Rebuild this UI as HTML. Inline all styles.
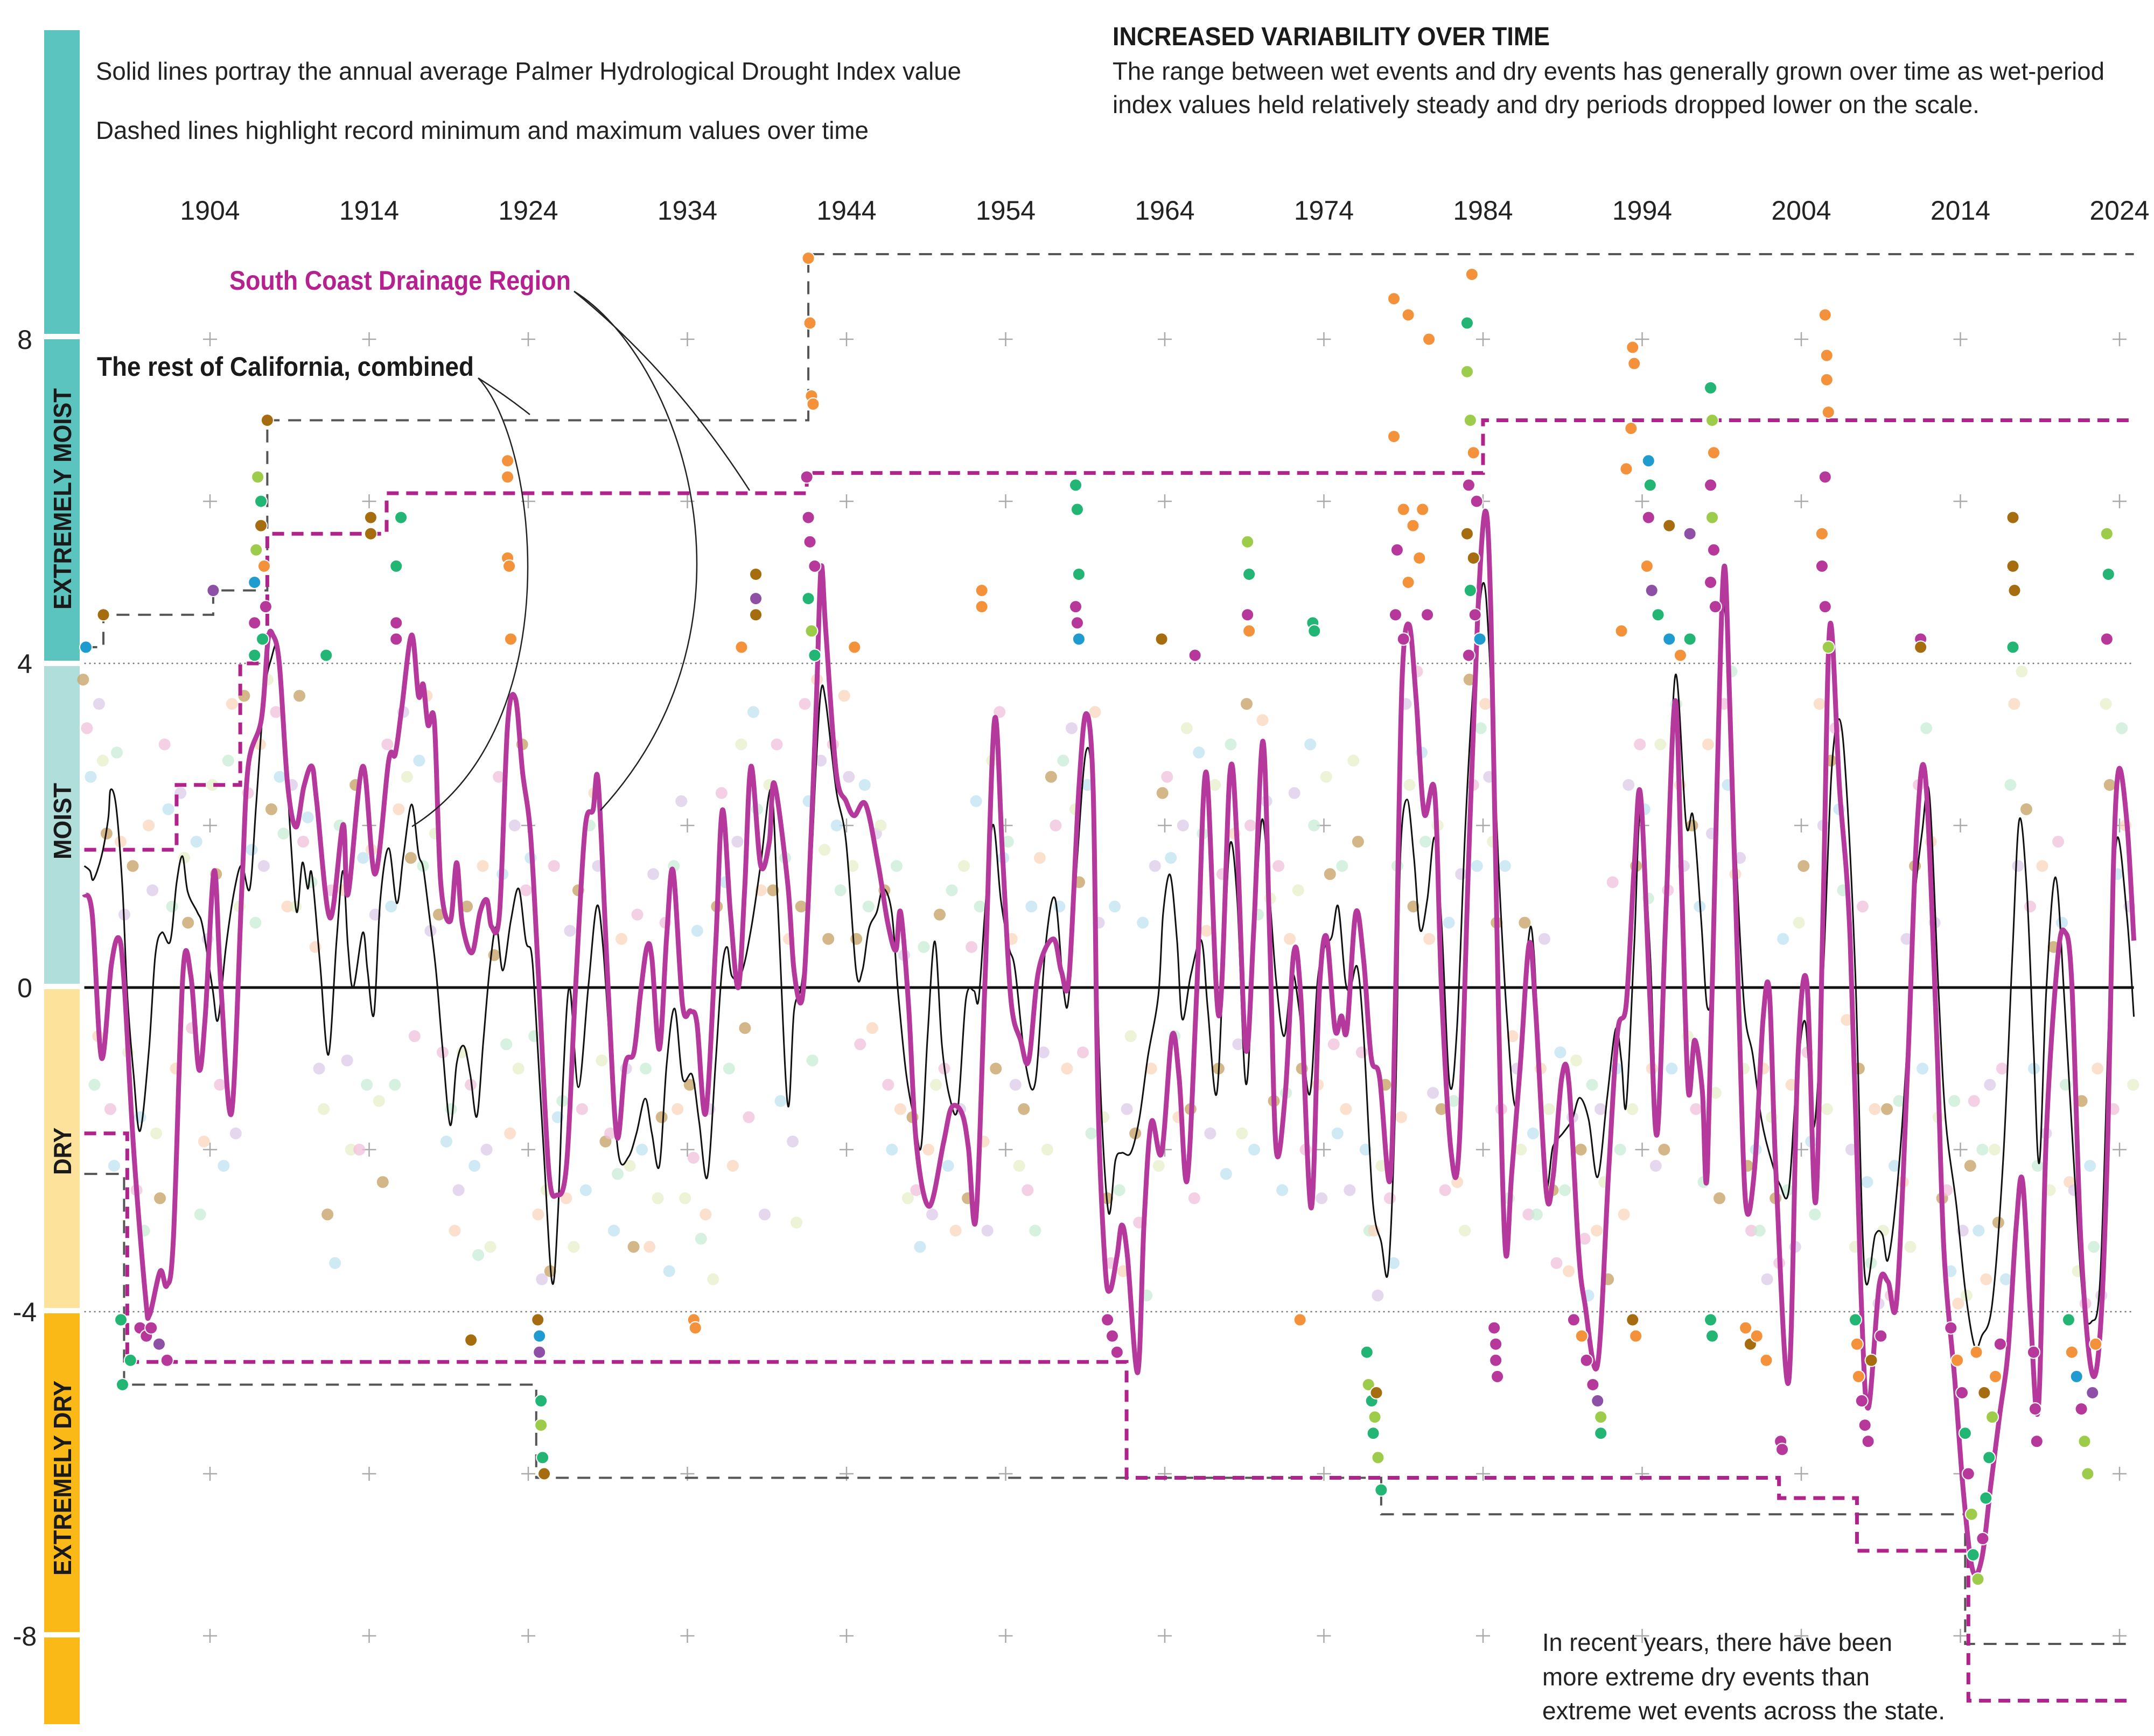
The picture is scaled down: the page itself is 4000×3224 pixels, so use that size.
<!DOCTYPE html>
<html><head><meta charset="utf-8"><title>Palmer Hydrological Drought Index</title>
<style>
html,body{margin:0;padding:0;background:#fff;}
svg{display:block;}
text{font-family:"Liberation Sans Narrow","Liberation Sans",sans-serif;}
</style></head>
<body>
<svg id="chart" xmlns="http://www.w3.org/2000/svg" width="4000" height="3224" viewBox="0 0 4000 3224">
<g id="bands">
<rect x="82" y="56" width="66" height="564" fill="#5bc4be"/>
<rect x="82" y="630" width="66" height="597" fill="#5bc4be"/>
<rect x="82" y="1237" width="66" height="590" fill="#b0dedb"/>
<rect x="82" y="1837" width="66" height="592" fill="#fde29b"/>
<rect x="82" y="2439" width="66" height="592" fill="#fbb917"/>
<rect x="82" y="3041" width="66" height="161" fill="#fbb917"/>
<text transform="translate(132,1132) rotate(-90)" font-size="46" font-weight="bold" fill="#1a1a1a" textLength="411" lengthAdjust="spacingAndGlyphs">EXTREMELY MOIST</text>
<text transform="translate(132,1596) rotate(-90)" font-size="46" font-weight="bold" fill="#1a1a1a" textLength="142" lengthAdjust="spacingAndGlyphs">MOIST</text>
<text transform="translate(132,2182) rotate(-90)" font-size="46" font-weight="bold" fill="#1a1a1a" textLength="88" lengthAdjust="spacingAndGlyphs">DRY</text>
<text transform="translate(132,2926) rotate(-90)" font-size="46" font-weight="bold" fill="#1a1a1a" textLength="362" lengthAdjust="spacingAndGlyphs">EXTREMELY DRY</text>
</g>
<g>
<text x="178" y="148" font-size="46" fill="#222" textLength="1607" lengthAdjust="spacingAndGlyphs">Solid lines portray the annual average Palmer Hydrological Drought Index value</text>
<text x="178" y="258" font-size="46" fill="#222" textLength="1435" lengthAdjust="spacingAndGlyphs">Dashed lines highlight record minimum and maximum values over time</text>
<text x="2066" y="84" font-size="48" font-weight="bold" fill="#1a1a1a" textLength="812" lengthAdjust="spacingAndGlyphs">INCREASED VARIABILITY OVER TIME</text>
<text x="2066" y="148" font-size="46" fill="#222" textLength="1842" lengthAdjust="spacingAndGlyphs">The range between wet events and dry events has generally grown over time as wet-period</text>
<text x="2066" y="210" font-size="46" fill="#222" textLength="1610" lengthAdjust="spacingAndGlyphs">index values held relatively steady and dry periods dropped lower on the scale.</text>
<text x="2864" y="3066" font-size="46" fill="#222" textLength="650" lengthAdjust="spacingAndGlyphs">In recent years, there have been</text>
<text x="2864" y="3130" font-size="46" fill="#222" textLength="608" lengthAdjust="spacingAndGlyphs">more extreme dry events than</text>
<text x="2864" y="3193" font-size="46" fill="#222" textLength="748" lengthAdjust="spacingAndGlyphs">extreme wet events across the state.</text>
</g>
<g id="axes"></g>
<g id="pale"></g>
<g id="axes2"></g>
<g id="steps"></g>
<g id="lines"></g>
<g id="ext"></g>
<g>
<text x="426" y="538" font-size="50" font-weight="bold" fill="#b5228f" textLength="634" lengthAdjust="spacingAndGlyphs">South Coast Drainage Region</text>
<text x="180" y="698" font-size="50" font-weight="bold" fill="#1a1a1a" textLength="700" lengthAdjust="spacingAndGlyphs">The rest of California, combined</text>
<path d="M1066,541 Q1250,690 1392,911" fill="none" stroke="#222" stroke-width="2.5"/>
<path d="M1066,541 C1260,660 1440,1150 1115,1505" fill="none" stroke="#222" stroke-width="2.5"/>
<path d="M888,702 Q940,735 984,770" fill="none" stroke="#222" stroke-width="2.5"/>
<path d="M888,702 C1000,820 1060,1350 765,1535" fill="none" stroke="#222" stroke-width="2.5"/>
</g>
</svg>
<script>
// ---- data ----
const tickYears = [1904,1914,1924,1934,1944,1954,1964,1974,1984,1994,2004,2014,2024];
const yTickValues = [8,4,0,-4,-8];
const plusValues = [8,6,2,-2,-6,-8];

const southCoast = [[1896.1,1.15],[1896.6,0.9],[1897.18,-0.87],[1897.8,0.28],[1898.27,0.61],[1898.6,0.07],[1899.2,-2.0],[1899.95,-3.82],[1900.2,-4.04],[1900.87,-3.5],[1901.28,-3.68],[1901.7,-3.1],[1902.3,0.18],[1902.8,0.14],[1903.3,-1.01],[1903.7,-0.36],[1904.26,1.44],[1904.67,0.07],[1905.35,-1.55],[1906.0,1.22],[1906.4,2.73],[1907.23,3.31],[1907.64,4.28],[1907.95,4.35],[1908.36,3.99],[1908.87,2.52],[1909.4,1.98],[1909.9,2.48],[1910.4,2.73],[1910.7,2.3],[1911.54,0.86],[1912.36,2.01],[1912.67,1.15],[1913.6,2.73],[1914.37,1.4],[1915.23,2.8],[1915.64,2.88],[1916.05,3.45],[1916.67,4.35],[1917.1,3.6],[1917.4,3.74],[1917.7,3.24],[1918.1,3.27],[1918.5,1.29],[1919.1,0.82],[1919.5,1.54],[1919.85,0.79],[1920.46,0.43],[1920.97,0.93],[1921.4,1.08],[1921.7,0.75],[1922.2,0.93],[1922.7,3.24],[1923.2,3.56],[1923.64,2.66],[1924.15,1.87],[1924.66,0.07],[1925.28,-2.24],[1925.8,-2.56],[1926.4,-2.2],[1926.95,-0.08],[1927.56,1.94],[1928.07,2.19],[1928.4,2.52],[1929.0,0.07],[1929.57,-1.84],[1930.1,-0.94],[1930.64,-0.8],[1931.05,-0.08],[1931.46,0.5],[1931.77,0.36],[1932.24,-0.76],[1932.7,0.64],[1933.1,1.44],[1933.7,-0.22],[1934.2,-0.29],[1934.6,-0.44],[1935.15,-1.55],[1935.77,0.5],[1936.2,2.19],[1936.7,0.93],[1937.2,0.0],[1937.6,1.22],[1938.0,2.73],[1938.6,1.51],[1939.15,1.8],[1939.46,2.52],[1940.3,1.29],[1940.7,0.21],[1941.2,-0.15],[1941.6,1.08],[1942.1,3.52],[1942.4,5.18],[1942.7,4.39],[1943.35,2.66],[1943.97,2.3],[1944.48,2.12],[1945.2,2.26],[1946.0,1.51],[1946.6,0.79],[1947.1,0.46],[1947.4,0.93],[1947.9,-0.22],[1948.4,-1.95],[1949.2,-2.7],[1950.1,-1.91],[1950.6,-1.48],[1951.25,-1.55],[1951.66,-1.98],[1952.13,-2.85],[1952.7,0.07],[1953.3,3.3],[1953.8,1.65],[1954.33,-0.15],[1954.94,-0.65],[1955.45,-0.9],[1956.07,0.21],[1957.0,0.6],[1957.5,0.2],[1957.98,0.12],[1958.6,2.45],[1959.06,3.38],[1959.5,2.45],[1959.8,-1.36],[1960.24,-3.4],[1960.56,-3.74],[1961.0,-3.31],[1961.3,-2.93],[1961.65,-3.31],[1962.3,-4.75],[1962.7,-2.89],[1963.16,-1.66],[1963.8,-2.04],[1964.45,-0.6],[1964.9,-1.11],[1965.4,-2.38],[1966.0,-0.09],[1966.6,2.66],[1967.4,-0.35],[1968.1,2.66],[1968.55,1.77],[1969.1,-0.77],[1969.6,0.75],[1970.17,3.04],[1970.6,0.58],[1971.0,-2.0],[1971.57,-1.32],[1972.1,0.42],[1972.54,-0.09],[1973.2,-2.72],[1973.7,-0.09],[1974.16,0.63],[1974.7,-0.52],[1975.1,-0.35],[1975.45,-0.52],[1976.0,0.92],[1976.5,0.33],[1976.97,-0.86],[1977.5,-1.11],[1978.15,-2.38],[1978.5,-0.09],[1978.9,3.72],[1979.35,4.48],[1979.8,3.55],[1980.3,2.15],[1980.96,2.41],[1981.4,-0.09],[1982.0,-2.04],[1982.5,-1.96],[1983.1,1.6],[1983.66,4.57],[1984.15,5.88],[1984.5,4.57],[1984.95,-0.09],[1985.4,-3.23],[1985.8,-2.3],[1986.35,-0.94],[1986.9,0.54],[1987.3,-0.26],[1987.97,-2.51],[1988.4,-2.34],[1988.95,-1.11],[1989.4,-1.19],[1990.0,-3.23],[1990.4,-3.9],[1991.2,-4.65],[1991.9,-2.25],[1992.45,-0.56],[1993.0,-0.2],[1993.5,1.49],[1993.9,2.38],[1994.5,-0.2],[1994.95,-1.8],[1995.5,0.96],[1996.08,3.54],[1996.5,1.13],[1996.9,-1.27],[1997.3,-0.65],[1997.78,-1.27],[1998.1,-2.25],[1998.7,2.47],[1999.14,5.18],[1999.5,3.54],[2000.04,-0.02],[2000.5,-2.65],[2001.06,-2.25],[2001.6,-0.38],[2002.0,-0.07],[2002.4,-2.25],[2003.2,-4.87],[2003.78,-0.91],[2004.35,0.06],[2004.9,-2.65],[2005.37,0.96],[2005.8,4.47],[2006.4,2.47],[2007.07,0.6],[2007.75,-3.76],[2008.2,-5.19],[2008.9,-3.67],[2009.45,-3.63],[2010.0,-3.85],[2010.7,-0.91],[2011.26,1.93],[2011.8,2.6],[2012.5,-0.56],[2012.96,-3.23],[2013.64,-4.83],[2014.2,-6.25],[2014.77,-7.19],[2015.34,-7.05],[2015.9,-6.16],[2016.47,-5.27],[2017.0,-4.47],[2017.5,-2.96],[2017.9,-2.38],[2018.4,-4.03],[2018.9,-5.19],[2019.4,-1.8],[2020.1,0.33],[2020.55,0.69],[2021.0,0.06],[2021.57,-3.14],[2022.25,-4.74],[2022.8,-4.21],[2023.27,-1.8],[2023.6,1.4],[2023.95,2.69],[2024.47,2.02],[2024.9,0.58]];

const restOfCA = [[1896.1,1.5],[1896.46,1.44],[1896.67,1.33],[1897.18,1.62],[1897.6,2.08],[1897.75,2.44],[1898.1,2.23],[1898.5,1.22],[1898.8,-0.08],[1899.2,-1.08],[1899.6,-1.77],[1900.15,-0.8],[1900.56,0.39],[1900.97,0.68],[1901.5,0.57],[1901.9,1.29],[1902.27,1.62],[1902.6,1.18],[1903.2,0.93],[1903.54,0.75],[1904.15,0.0],[1904.5,-0.4],[1905.0,0.5],[1905.55,1.22],[1906.0,1.51],[1906.5,1.22],[1906.9,2.26],[1907.4,3.6],[1907.85,4.06],[1908.26,4.21],[1908.57,3.45],[1909.08,1.8],[1909.45,0.93],[1909.8,1.54],[1910.14,1.22],[1910.4,1.4],[1910.92,0.28],[1911.44,-0.83],[1911.95,0.57],[1912.36,1.44],[1912.67,0.5],[1913.0,0.0],[1913.6,0.68],[1913.9,0.21],[1914.3,-0.33],[1914.7,1.08],[1915.23,1.72],[1915.74,1.04],[1916.15,1.62],[1916.67,2.26],[1917.1,1.65],[1917.4,1.47],[1917.8,0.86],[1918.2,0.21],[1918.6,-0.72],[1919.1,-1.7],[1919.5,-0.94],[1919.95,-0.72],[1920.36,-1.08],[1920.77,-1.59],[1921.18,-0.65],[1921.6,0.28],[1922.0,0.75],[1922.4,0.21],[1922.9,0.82],[1923.4,1.22],[1923.85,0.57],[1924.2,0.43],[1924.46,-0.29],[1924.97,-2.02],[1925.5,-3.64],[1925.86,-2.81],[1926.2,-1.08],[1926.6,0.0],[1927.15,-1.23],[1927.77,0.0],[1928.3,1.0],[1928.7,0.5],[1929.2,-0.94],[1929.7,-2.09],[1930.3,-2.09],[1930.8,-1.8],[1931.35,-1.37],[1931.77,-1.8],[1932.24,-2.2],[1932.7,-0.94],[1933.2,-0.26],[1933.7,-1.12],[1934.3,-1.08],[1934.74,-1.66],[1935.25,-2.34],[1935.77,-0.94],[1936.17,0.21],[1936.5,0.5],[1936.8,0.14],[1937.4,0.18],[1938.0,0.72],[1938.6,1.51],[1939.26,2.44],[1939.67,1.08],[1940.3,-1.44],[1940.7,-0.29],[1941.2,0.07],[1941.7,1.22],[1942.1,2.8],[1942.4,3.67],[1942.7,3.52],[1943.35,2.44],[1943.97,1.8],[1944.6,0.21],[1945.0,0.21],[1945.4,0.72],[1945.9,0.93],[1946.3,1.22],[1946.84,0.93],[1947.25,-0.08],[1947.76,-1.08],[1948.3,-1.66],[1948.7,-1.95],[1949.1,-0.58],[1949.55,0.57],[1950.0,-0.72],[1950.5,-1.37],[1951.0,-1.48],[1951.5,-0.15],[1952.0,-0.04],[1952.3,-0.15],[1952.7,0.93],[1953.2,2.01],[1953.7,1.08],[1954.2,0.5],[1954.6,0.21],[1955.25,-0.94],[1955.87,-1.16],[1956.5,0.5],[1957.1,1.1],[1957.65,-0.05],[1957.98,-0.09],[1958.5,1.6],[1959.06,2.92],[1959.5,2.28],[1959.9,-0.94],[1960.45,-2.76],[1960.9,-2.13],[1961.3,-2.04],[1961.86,-2.04],[1962.4,-1.62],[1962.94,-0.85],[1963.6,-0.09],[1963.9,0.92],[1964.34,1.39],[1964.77,0.58],[1965.1,-0.39],[1965.64,0.16],[1966.3,0.58],[1966.7,-0.26],[1967.25,-1.32],[1967.7,0.33],[1968.1,1.77],[1968.55,1.09],[1969.1,-1.19],[1969.6,0.5],[1970.1,2.07],[1970.6,1.09],[1971.0,0.08],[1971.5,-0.6],[1972.0,0.16],[1972.44,-0.26],[1973.1,-1.32],[1973.6,0.08],[1974.05,0.5],[1974.5,0.63],[1974.9,1.0],[1975.35,0.08],[1975.67,0.0],[1976.1,0.25],[1976.5,-0.6],[1977.07,-2.63],[1977.6,-3.14],[1978.05,-3.48],[1978.5,-1.36],[1978.8,1.6],[1979.23,2.32],[1979.66,1.6],[1980.05,0.71],[1980.5,1.09],[1980.96,1.85],[1981.4,0.76],[1981.9,-1.19],[1982.36,-0.52],[1982.9,2.03],[1983.45,3.89],[1984.0,4.99],[1984.4,4.15],[1984.95,1.6],[1985.5,-0.35],[1986.1,-1.45],[1986.8,0.5],[1987.2,0.42],[1987.9,-2.34],[1988.4,-1.96],[1989.05,-1.79],[1989.6,-1.63],[1990.07,-1.36],[1990.64,-1.63],[1991.2,-2.34],[1991.8,-1.36],[1992.34,-0.51],[1992.7,-0.91],[1993.0,-1.45],[1993.5,0.51],[1993.9,2.16],[1994.5,0.42],[1995.0,-1.8],[1995.5,0.86],[1996.08,3.85],[1996.76,2.02],[1997.2,2.11],[1997.7,0.86],[1998.1,-0.25],[1998.46,0.42],[1998.9,3.98],[1999.25,4.56],[1999.8,2.02],[2000.4,-0.2],[2000.95,-0.83],[2001.5,-1.63],[2002.1,-2.12],[2002.65,-2.43],[2003.2,-2.52],[2003.7,-1.18],[2004.24,-0.42],[2004.8,-1.72],[2005.37,0.15],[2005.9,2.65],[2006.4,3.31],[2006.84,2.47],[2007.4,0.15],[2007.97,-3.5],[2008.65,-3.05],[2009.1,-3.05],[2009.45,-3.36],[2010.0,-2.52],[2010.6,-0.91],[2011.03,0.86],[2011.6,1.93],[2012.05,2.38],[2012.62,-0.02],[2013.07,-1.63],[2013.75,-2.69],[2014.32,-3.76],[2014.9,-4.43],[2015.34,-4.3],[2016.0,-3.9],[2016.7,-2.08],[2017.27,0.42],[2017.7,2.07],[2018.17,1.22],[2018.6,-0.74],[2018.96,-2.16],[2019.4,-0.02],[2019.98,1.36],[2020.55,-0.2],[2021.1,-2.07],[2021.7,-3.85],[2022.25,-4.12],[2022.8,-3.54],[2023.4,0.06],[2023.84,1.84],[2024.47,0.87],[2024.9,-0.36]];

const restMax = [[1896.1,4.2],[1897.3,4.6],[1904.2,4.9],[1907.6,7.0],[1941.6,9.05]];
const restMin = [[1896.1,-2.3],[1898.6,-4.9],[1924.5,-6.05],[1977.6,-6.5],[2014.3,-8.1]];
const southMax = [[1896.1,1.7],[1901.9,2.5],[1905.9,4.0],[1907.6,5.6],[1915.1,6.1],[1941.5,6.35],[1984.0,7.0]];
const southMin = [[1896.1,-1.8],[1898.8,-4.62],[1961.6,-6.05],[2002.6,-6.3],[2007.5,-6.95],[2014.5,-8.8]];
const endYear = 2024.9;

const dotPalette = ["#f4913b","#b5389a","#22b573","#9ccc4a","#a66d10","#1f9bd0","#8e4fa6"];
const extremeDots = [
[1896.2,4.2,5],[1897.3,4.6,4],[1904.2,4.9,6],[1906.8,4.1,2],[1906.8,4.5,1],[1906.8,5.0,5],[1906.9,5.4,3],[1907.0,6.3,3],[1907.2,6.0,2],[1907.2,5.7,4],[1907.4,5.2,0],[1907.5,4.7,1],[1907.6,7.0,4],[1907.3,4.3,2],[1911.3,4.1,2],[1914.1,5.8,4],[1914.1,5.6,4],[1915.7,4.3,1],[1915.7,4.5,1],[1915.7,5.2,2],[1916.0,5.8,2],[1922.7,6.5,0],[1922.7,6.3,0],[1922.7,5.3,0],[1922.8,5.2,0],[1922.9,4.3,0],[1937.4,4.2,0],[1938.3,4.6,4],[1938.3,4.8,6],[1938.3,5.1,4],[1941.6,9.0,0],[1941.7,8.2,0],[1941.8,7.3,0],[1941.9,7.2,0],[1941.5,6.3,1],[1941.6,5.8,1],[1941.7,5.5,1],[1942.0,5.2,1],[1941.6,4.8,2],[1941.8,4.4,3],[1942.0,4.1,2],[1944.5,4.2,0],[1952.5,4.9,0],[1952.5,4.7,0],[1958.4,6.2,2],[1958.5,5.9,2],[1958.6,5.1,2],[1958.4,4.7,1],[1958.5,4.5,1],[1958.6,4.3,5],[1963.8,4.3,4],[1965.9,4.1,1],[1969.2,5.5,3],[1969.3,5.1,2],[1969.2,4.6,1],[1969.3,4.4,0],[1973.3,4.5,2],[1973.4,4.4,2],[1978.4,8.5,0],[1979.3,8.3,0],[1980.6,8.0,0],[1978.4,6.8,0],[1979.0,5.9,0],[1979.6,5.7,0],[1980.2,5.9,0],[1978.6,5.4,1],[1979.3,5.0,0],[1980.0,5.3,0],[1978.5,4.6,1],[1979.0,4.3,1],[1980.5,4.6,1],[1983.0,8.2,2],[1983.3,8.8,0],[1983.0,7.6,3],[1983.2,7.0,3],[1983.4,6.6,0],[1983.1,6.2,1],[1983.6,6.0,1],[1983.0,5.6,4],[1983.4,5.3,4],[1983.2,4.9,2],[1983.5,4.6,1],[1983.8,4.3,5],[1983.1,4.1,1],[1993.4,7.9,0],[1993.5,7.7,0],[1993.3,6.9,0],[1993.0,6.4,0],[1994.4,6.5,5],[1994.5,6.2,2],[1994.4,5.8,1],[1995.7,5.7,4],[1994.3,5.2,0],[1994.6,4.9,6],[1995.0,4.6,2],[1995.7,4.3,5],[1996.4,4.1,0],[1992.7,4.4,0],[1998.3,7.4,2],[1998.4,7.0,3],[1998.5,6.6,0],[1998.3,6.2,1],[1998.4,5.8,3],[1998.5,5.4,1],[1998.3,5.0,1],[1998.6,4.7,1],[1997.0,5.6,6],[1997.0,4.3,2],[2005.5,8.3,0],[2005.6,7.8,0],[2005.6,7.5,0],[2005.7,7.1,0],[2005.5,6.3,1],[2005.3,5.6,0],[2005.3,5.2,1],[2005.5,4.7,1],[2005.7,4.2,3],[2011.5,4.3,1],[2011.5,4.2,4],[2017.3,5.8,4],[2017.3,5.2,4],[2017.4,4.9,4],[2017.3,4.2,2],[2023.2,5.6,3],[2023.3,5.1,2],[2023.2,4.3,1],
[1898.4,-4.1,2],[1898.5,-4.9,2],[1899.0,-4.6,2],[1899.6,-4.2,1],[1900.0,-4.3,1],[1900.3,-4.2,1],[1900.8,-4.4,6],[1901.3,-4.6,1],[1924.6,-4.1,4],[1924.7,-4.3,5],[1924.7,-4.5,6],[1924.8,-5.1,2],[1924.8,-5.4,3],[1924.9,-5.8,2],[1925.0,-6.0,4],[1920.4,-4.35,4],[1934.4,-4.1,0],[1934.5,-4.2,0],[1960.4,-4.1,1],[1960.7,-4.3,1],[1961.0,-4.5,1],[1976.7,-4.5,2],[1976.8,-4.9,3],[1977.0,-5.1,2],[1977.2,-5.3,3],[1977.1,-5.5,2],[1977.4,-5.8,3],[1977.6,-6.2,2],[1977.3,-5.0,4],[1972.5,-4.1,0],[1984.7,-4.2,1],[1984.8,-4.4,1],[1984.8,-4.6,1],[1984.9,-4.8,1],[1989.7,-4.1,1],[1990.2,-4.3,0],[1990.5,-4.6,1],[1990.9,-4.9,1],[1991.2,-5.1,6],[1991.4,-5.3,3],[1991.4,-5.5,2],[1993.4,-4.1,4],[1993.6,-4.3,0],[1998.3,-4.1,2],[1998.4,-4.3,2],[2000.5,-4.2,0],[2000.8,-4.4,4],[2001.2,-4.3,0],[2001.8,-4.6,0],[2002.7,-5.6,1],[2002.8,-5.7,1],[2007.4,-4.1,2],[2007.5,-4.4,0],[2007.6,-4.8,0],[2007.8,-5.1,1],[2008.0,-5.4,1],[2008.2,-5.6,1],[2008.4,-4.6,4],[2009.0,-4.3,1],[2013.4,-4.2,1],[2013.8,-4.6,0],[2014.1,-5.0,1],[2014.3,-5.5,2],[2014.5,-6.0,1],[2014.7,-6.5,3],[2014.8,-7.0,2],[2015.1,-7.3,3],[2015.4,-6.8,1],[2015.6,-6.3,2],[2015.8,-5.8,2],[2016.0,-5.3,3],[2016.2,-4.8,0],[2016.5,-4.4,1],[2015.0,-4.5,0],[2015.5,-5.0,4],[2018.6,-4.5,1],[2018.7,-5.2,1],[2018.8,-5.6,1],[2020.8,-4.1,2],[2021.0,-4.5,0],[2021.3,-4.8,5],[2021.6,-5.2,1],[2021.8,-5.6,3],[2022.0,-6.0,3],[2022.5,-4.4,0],[2022.3,-5.0,6]
];
const paleYears = [1896,1897,1898,1899,1900,1901,1902,1903,1904,1905,1906,1907,1908,1909,1910,1911,1912,1913,1914,1915,1916,1917,1918,1919,1920,1921,1922,1923,1924,1925,1926,1927,1928,1929,1930,1931,1932,1933,1934,1935,1936,1937,1938,1939,1940,1941,1942,1943,1944,1945,1946,1947,1948,1949,1950,1951,1952,1953,1954,1955,1956,1957,1958,1959,1960,1961,1962,1963,1964,1965,1966,1967,1968,1969,1970,1971,1972,1973,1974,1975,1976,1977,1978,1979,1980,1981,1982,1983,1984,1985,1986,1987,1988,1989,1990,1991,1992,1993,1994,1995,1996,1997,1998,1999,2000,2001,2002,2003,2004,2005,2006,2007,2008,2009,2010,2011,2012,2013,2014,2015,2016,2017,2018,2019,2020,2021,2022,2023,2024];
const paleValues = [[3.8,3.2,2.6,-1.2,-0.6],[3.5,2.8,1.9,-1.5,-2.2],[2.9,1.8,0.9,-0.8],[1.5,-2.5,-1.6,-3.0],[2.0,1.2,-1.8,-2.6],[3.0,2.2,1.0,-1.0],[2.4,1.6,0.8,-0.5],[1.8,-2.8,-1.9,0.6],[2.5,1.4,-1.2,-2.2],[2.8,3.5,-1.8,1.0],[3.6,2.4,1.7,0.8],[3.0,1.5,3.8,2.2],[3.4,2.6,1.9,1.0],[2.5,1.0,3.6,1.8],[2.1,1.3,0.5,-1.0],[-1.5,-2.8,1.2,-3.4],[2.0,1.2,-0.9,-2.0],[2.5,-2.0,1.6,-1.2],[1.7,0.9,-1.4,-2.4],[3.0,1.0,-1.2,2.2],[3.4,2.6,1.6,-0.6],[2.8,1.5,3.6,0.7],[1.9,0.9,-0.8,-1.9],[-1.5,-3.0,-2.5,-0.8],[1.0,-1.2,-2.2,-3.3],[1.5,-2.0,-3.2,0.4],[2.6,1.4,-0.7,-1.8],[2.0,-1.0,3.0,1.2],[1.6,-0.6,-2.8,-3.6],[-2.5,-3.5,1.5,-1.6],[-1.4,-2.6,0.7,-3.2],[1.2,-1.5,-2.5,2.0],[2.4,1.5,-0.9,-1.9],[-1.8,-3.0,-2.3,0.6],[-1.0,-2.2,-3.2,0.9],[-2.0,-1.0,-3.2,1.4],[-2.6,-1.6,0.8,-3.5],[1.5,-1.5,2.3,-2.6],[-1.2,-2.1,0.7,-3.1],[-2.8,-1.5,-3.6,1.0],[2.4,1.3,-1.0,-2.2],[1.8,3.0,-0.5,-1.6],[3.4,2.2,1.2,-2.8],[2.5,1.2,3.0,-1.4],[1.6,0.6,-1.9,-2.9],[1.0,3.5,2.3,-0.9],[3.8,2.8,1.7,0.6],[3.0,2.0,1.2,3.6],[2.6,1.5,0.6,-0.7],[2.5,1.0,-0.5,1.9],[2.0,1.2,-1.2,-2.0],[1.5,-1.5,0.4,-2.6],[-1.6,-2.5,-3.2,0.5],[-2.0,-2.8,-1.2,0.9],[-1.0,-2.2,1.2,-3.0],[-1.5,1.5,-2.6,0.5],[2.3,1.0,-1.9,-3.0],[2.8,-1.0,3.4,1.6],[1.8,0.6,-1.2,-2.2],[-1.5,-2.5,1.0,-3.0],[1.6,-0.8,-2.0,2.6],[2.0,1.0,2.8,-1.0],[3.2,2.2,1.3,-0.8],[2.5,-1.8,3.4,0.8],[-1.6,-2.6,-3.4,1.0],[-2.5,-3.5,-1.5,-0.6],[-1.8,-2.9,0.8,-3.8],[-1.0,1.5,-2.2,2.4],[2.6,1.6,-0.6,-1.6],[2.0,3.2,-1.5,-2.6],[2.9,1.9,0.7,-1.8],[2.5,-1.0,1.4,-2.3],[3.0,1.9,-0.7,-1.8],[3.5,2.0,-2.0,0.9],[3.3,2.3,1.1,-1.4],[1.5,-2.5,-1.3,0.6],[2.4,1.2,-1.0,-2.0],[3.0,2.0,-1.2,-2.6],[2.6,1.4,-0.7,-1.8],[1.5,-1.5,-2.5,2.8],[1.8,-0.8,-2.0,-3.0],[-3.0,-3.8,-2.2,-1.2],[-2.6,-3.4,1.5,-1.6],[3.5,2.5,1.0,3.9],[2.9,1.8,0.6,-1.3],[2.0,-1.5,-2.5,0.8],[-1.4,-2.4,1.4,-3.0],[3.8,2.5,1.5,3.2],[3.5,2.6,1.8,0.8],[-1.5,1.5,-2.6,-0.6],[-1.0,-2.0,0.8,-2.8],[-1.8,-2.8,-1.0,0.6],[-1.5,-2.5,-3.4,-0.8],[-2.5,-3.5,-1.6,-0.9],[-2.0,-3.1,-3.8,-1.2],[-3.0,-1.5,-2.4,-3.6],[1.3,-1.0,-2.0,-2.8],[2.5,-1.5,1.5,3.0],[2.2,1.1,-1.0,-2.2],[3.0,-2.0,1.2,-1.0],[3.5,2.5,1.5,-0.6],[2.0,-1.5,1.0,-2.4],[3.0,1.9,-1.3,-2.6],[3.5,2.5,3.9,1.4],[1.6,-1.0,-2.2,-3.0],[-2.0,-3.0,-1.0,-3.6],[-1.6,-2.6,-3.4,0.6],[-2.5,-1.2,-3.2,0.8],[1.5,-0.8,-1.9,-2.8],[3.5,2.0,-1.5,2.8],[3.2,2.2,1.2,-0.4],[-2.0,-3.2,-1.0,1.0],[-2.4,-3.4,-1.5,-3.9],[-3.0,-1.5,-3.8,-2.2],[-1.4,-2.4,0.6,-3.2],[1.5,2.5,-1.0,3.2],[1.8,0.8,-1.6,-2.6],[-2.5,-3.5,-1.4,-3.9],[-3.0,-3.8,-2.2,-1.4],[-3.0,-2.0,-3.6,-1.2],[-2.0,-2.9,-1.0,-3.6],[2.5,3.5,1.5,3.9],[2.2,1.0,-1.0,-2.2],[1.5,-1.8,-2.5,0.5],[1.8,0.8,-1.2,-2.4],[-2.5,-3.5,-1.4,-3.9],[-2.2,-3.2,-1.0,-3.8],[3.5,2.5,-1.5,1.4],[3.2,2.0,1.0,-1.2]];
const paleColors = ["#c8a56c","#f0c0dc","#bfe2f2","#c8ecd4","#f9d6bc","#dccbe8","#e6efc9"];

// ---- scales ----
const NS = "http://www.w3.org/2000/svg";
function xs(yr){ return 390 + (yr - 1904) * 29.55; }
function ys(v){ return 1834 - v * 150.5; }
function mk(tag, attrs, parent){ const e = document.createElementNS(NS, tag); for (const k in attrs) e.setAttribute(k, attrs[k]); parent.appendChild(e); return e; }

const axes = document.getElementById('axes');
const x0 = xs(1896.1), x1 = xs(endYear);
tickYears.forEach(function(y){
  const t = mk('text', {x: xs(y), y: 408, 'font-size': 50, 'text-anchor': 'middle', fill: '#222'}, axes);
  
  
  t.textContent = y;
  plusValues.forEach(function(v){
    const p = mk('path', {d: 'M'+(xs(y)-13)+','+ys(v)+'h26M'+xs(y)+','+(ys(v)-13)+'v26', stroke: '#aaa', 'stroke-width': 2.5}, axes);
    
    
  });
});
yTickValues.forEach(function(v){
  const t = mk('text', {x: 46, y: ys(v) + 18, 'font-size': 50, 'text-anchor': 'middle', fill: '#222'}, axes);
  
  
  t.textContent = v;
});
[4,-4].forEach(function(v){
  const l = mk('line', {x1: x0, x2: x1, y1: ys(v), y2: ys(v), stroke: '#777', 'stroke-width': 2.5, 'stroke-dasharray': '3 6'}, axes);
  
  
});

// pale dots
const pale = document.getElementById('pale');
let pc = 0;
paleYears.forEach(function(yr, yi){
  const vals = paleValues[yi];
  vals.forEach(function(v, i){
    const col = paleColors[pc % paleColors.length];
    const dx = (i - (vals.length - 1) / 2) * 7;
    const c = mk('circle', {cx: xs(yr + 0.5) + dx, cy: ys(v), r: 11, fill: col, opacity: col === '#c8a56c' ? 0.8 : 0.75}, pale);
    
    
    pc++;
  });
});

// zero line
const axes2 = document.getElementById('axes2');
const zl = mk('line', {x1: x0, x2: x1, y1: ys(0), y2: ys(0), stroke: '#111', 'stroke-width': 5}, axes2);



// step lines
const steps = document.getElementById('steps');
function stepPath(arr){
  let d = 'M' + xs(arr[0][0]) + ',' + ys(arr[0][1]);
  for (let i = 1; i < arr.length; i++){ d += 'H' + xs(arr[i][0]) + 'V' + ys(arr[i][1]); }
  d += 'H' + xs(endYear);
  return d;
}
const s1 = mk('path', {d: stepPath(restMax), fill: 'none', stroke: '#555', 'stroke-width': 4, 'stroke-dasharray': '24 16'}, steps);


const s2 = mk('path', {d: stepPath(restMin), fill: 'none', stroke: '#555', 'stroke-width': 4, 'stroke-dasharray': '24 16'}, steps);


const s3 = mk('path', {d: stepPath(southMax), fill: 'none', stroke: '#b0228c', 'stroke-width': 7, 'stroke-dasharray': '22 14'}, steps);


const s4 = mk('path', {d: stepPath(southMin), fill: 'none', stroke: '#b0228c', 'stroke-width': 7, 'stroke-dasharray': '22 14'}, steps);



// smooth lines
function smooth(arr){
  const p = arr.map(function(a){ return [xs(a[0]), ys(a[1])]; });
  let d = 'M' + p[0][0].toFixed(1) + ',' + p[0][1].toFixed(1);
  for (let i = 0; i < p.length - 1; i++){
    const a = p[Math.max(0, i-1)], b = p[i], c = p[i+1], e = p[Math.min(p.length-1, i+2)];
    const c1x = b[0] + (c[0]-a[0])/6, c1y = b[1] + (c[1]-a[1])/6;
    const c2x = c[0] - (e[0]-b[0])/6, c2y = c[1] - (e[1]-b[1])/6;
    d += 'C' + c1x.toFixed(1)+','+c1y.toFixed(1)+' '+c2x.toFixed(1)+','+c2y.toFixed(1)+' '+c[0].toFixed(1)+','+c[1].toFixed(1);
  }
  return d;
}
const lines = document.getElementById('lines');
const lr = mk('path', {d: smooth(restOfCA), fill: 'none', stroke: '#111', 'stroke-width': 3, 'stroke-linejoin': 'round'}, lines);


const ls = mk('path', {d: smooth(southCoast), fill: 'none', stroke: '#b5399c', 'stroke-width': 9, 'stroke-linejoin': 'round'}, lines);



// extreme dots
const ext = document.getElementById('ext');
extremeDots.forEach(function(d){
  const c = mk('circle', {cx: xs(d[0]), cy: ys(d[1]), r: 11.5, fill: dotPalette[d[2]], stroke: '#fff', 'stroke-width': 2}, ext);
  
  
});
</script>
</body></html>
